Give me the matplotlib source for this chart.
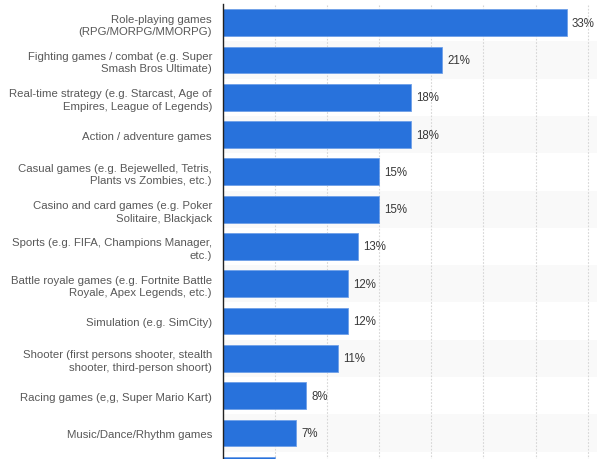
import matplotlib
matplotlib.use("Agg")
from matplotlib import pyplot as plt
import numpy as np

# data
categories = [
    "Role-playing games\n(RPG/MORPG/MMORPG)",
    "Fighting games / combat (e.g. Super\nSmash Bros Ultimate)",
    "Real-time strategy (e.g. Starcast, Age of\nEmpires, League of Legends)",
    "Action / adventure games",
    "Casual games (e.g. Bejewelled, Tetris,\nPlants vs Zombies, etc.)",
    "Casino and card games (e.g. Poker\nSolitaire, Blackjack",
    "Sports (e.g. FIFA, Champions Manager,\netc.)",
    "Battle royale games (e.g. Fortnite Battle\nRoyale, Apex Legends, etc.)",
    "Simulation (e.g. SimCity)",
    "Shooter (first persons shooter, stealth\nshooter, third-person shoort)",
    "Racing games (e,g, Super Mario Kart)",
    "Music/Dance/Rhythm games",
    "",
]
shares = [33, 21, 18, 18, 15, 15, 13, 12, 12, 11, 8, 7, 5]
# last row is cut off by the figure edge, its label is not visible
value_labels = ["33%", "21%", "18%", "18%", "15%", "15%", "13%", "12%", "12%", "11%", "8%", "7%", ""]

plt.rcParams['font.family'] = ['Liberation Sans', 'DejaVu Sans']

fig = plt.figure(figsize=(5.97, 4.60), dpi=100)
n = len(categories)
row_px = 37.3
top_px = 5
ax_h_px = (n + 1) * row_px
left_px = 223
fig_w, fig_h = 597, 460
ax = fig.add_axes([left_px / fig_w, 1 - (top_px + ax_h_px) / fig_h,
                   (fig_w - left_px) / fig_w, ax_h_px / fig_h])

y = np.arange(n)

# alternating row stripes
for i in y:
    if i % 2 == 1:
        ax.axhspan(i - 0.5, i + 0.5, color='#f9f9f9', zorder=0, lw=0)

ax.barh(y, shares, height=0.72, color='#2872dc', edgecolor='#6fa0e8',
        linewidth=0.6, zorder=3)

for yi, v, lab in zip(y, shares, value_labels):
    ax.text(v + 0.5, yi, lab, va='center', ha='left', fontsize=8.3,
            color='#383838', zorder=4)

ax.set_xlim(0, 35.9)
ax.set_ylim(n + 0.5, -0.5)
ax.set_xticks(np.arange(5, 36, 5))
ax.grid(axis='x', color='#d6d6d6', linestyle=(0, (1.5, 1.5)), linewidth=0.8, zorder=1)
ax.set_axisbelow(True)

ax.set_yticks(y)
ax.set_yticklabels(categories, fontsize=8.2, color='#585858', linespacing=1.3)
ax.tick_params(axis='y', length=0, pad=8)
ax.tick_params(axis='x', length=0, labelbottom=False)

for s in ['top', 'right', 'bottom']:
    ax.spines[s].set_visible(False)
ax.spines['left'].set_color('#222222')
ax.spines['left'].set_linewidth(1.0)
ax.spines['left'].set_zorder(5)

fig.savefig("out.png", dpi=100)
